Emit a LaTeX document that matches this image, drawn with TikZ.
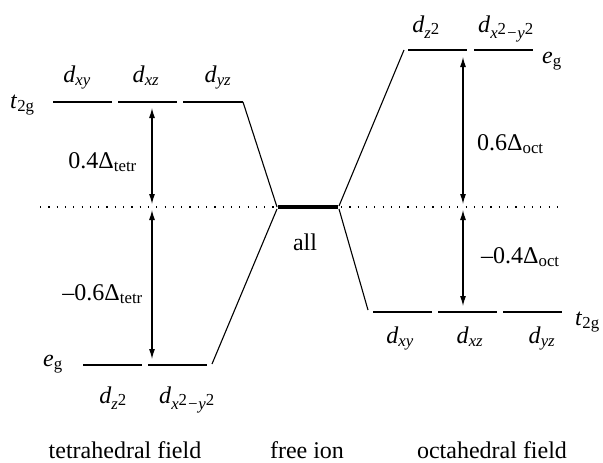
\documentclass[tikz,border=0pt]{standalone}
\usepackage{fontspec}
\setmainfont{Liberation Serif}
\usetikzlibrary{arrows.meta}
\newcommand\dorb[1]{\textit{d}\textsubscript{\textit{#1}}}
\newcommand\sqr{\raisebox{0.55ex}{\textup{2}}}
\newcommand\tlab{\textit{t}\textsubscript{2g}}
\newcommand\elab{\textit{e}\textsubscript{g}}
\begin{document}
\begin{tikzpicture}[x=1pt,y=-1pt,
  font=\fontsize{24}{28}\selectfont,
  lbl/.style={inner sep=0pt, anchor=base},
  lblw/.style={inner sep=0pt, anchor=base west},
  lble/.style={inner sep=0pt, anchor=base east},
  level/.style={line width=2.6pt},
  freelevel/.style={line width=4.5pt},
  conn/.style={line width=1.1pt},
  dotline/.style={line width=1.3pt, dash pattern=on 1.2pt off 7.1pt},
  gap/.style={line width=1.1pt, {Latex[length=10pt,width=6pt]}-{Latex[length=10pt,width=6pt]}}]
\useasboundingbox (0,0) rectangle (603,463);

% coordinates
\coordinate (tt1a) at (53,102);  \coordinate (tt1b) at (112,102);
\coordinate (tt2a) at (118,102); \coordinate (tt2b) at (177,102);
\coordinate (tt3a) at (183,102); \coordinate (tt3b) at (243,102);
\coordinate (te1a) at (83,365);  \coordinate (te1b) at (142,365);
\coordinate (te2a) at (148,365); \coordinate (te2b) at (207,365);
\coordinate (fa) at (278,207);   \coordinate (fb) at (338,207);
\coordinate (oe1a) at (408,50);  \coordinate (oe1b) at (467,50);
\coordinate (oe2a) at (474,50);  \coordinate (oe2b) at (533,50);
\coordinate (ot1a) at (373,312); \coordinate (ot1b) at (432,312);
\coordinate (ot2a) at (438,312); \coordinate (ot2b) at (497,312);
\coordinate (ot3a) at (503,312); \coordinate (ot3b) at (562,312);

% dotted barycentre line
\coordinate (dl1) at (40,207);  \coordinate (dl2) at (276,207);
\coordinate (dr1) at (341,207); \coordinate (dr2) at (565,207);
\draw[dotline] (dl1) -- (dl2);
\draw[dotline] (dr1) -- (dr2);

% levels
\draw[level] (tt1a) -- (tt1b);
\draw[level] (tt2a) -- (tt2b);
\draw[level] (tt3a) -- (tt3b);
\draw[level] (te1a) -- (te1b);
\draw[level] (te2a) -- (te2b);
\draw[freelevel] (fa) -- (fb);
\draw[level] (oe1a) -- (oe1b);
\draw[level] (oe2a) -- (oe2b);
\draw[level] (ot1a) -- (ot1b);
\draw[level] (ot2a) -- (ot2b);
\draw[level] (ot3a) -- (ot3b);

% correlation lines
\coordinate (c1a) at (243,102); \coordinate (c1b) at (277,207);
\coordinate (c2a) at (212,364); \coordinate (c2b) at (277,209);
\coordinate (c3a) at (339,209); \coordinate (c3b) at (368,310);
\coordinate (c4a) at (339,206); \coordinate (c4b) at (404,50);
\draw[conn] (c1a) -- (c1b);
\draw[conn] (c2a) -- (c2b);
\draw[conn] (c3a) -- (c3b);
\draw[conn] (c4a) -- (c4b);

% splitting arrows
\coordinate (a1a) at (152,108); \coordinate (a1b) at (152,204);
\coordinate (a2a) at (152,210); \coordinate (a2b) at (152,359);
\coordinate (a3a) at (463,57);  \coordinate (a3b) at (463,204);
\coordinate (a4a) at (463,210); \coordinate (a4b) at (463,306);
\draw[gap] (a1a) -- (a1b);
\draw[gap] (a2a) -- (a2b);
\draw[gap] (a3a) -- (a3b);
\draw[gap] (a4a) -- (a4b);

% labels, tetrahedral
\node[lbl] (lxy1) at (77,82) {\dorb{xy}};
\node[lbl] (lxz1) at (146,82) {\dorb{xz}};
\node[lbl] (lyz1) at (218,82) {\dorb{yz}};
\node[lblw] (t2g1) at (10,108) {\tlab};
\node[lble] (dt1) at (137,168) {0.4Δ\textsubscript{tetr}};
\node[lble] (dt2) at (143,300) {–0.6Δ\textsubscript{tetr}};
\node[lblw] (eg1) at (43,366) {\elab};
\node[lbl] (lz1) at (113,403) {\dorb{z\sqr}};
\node[lbl] (lx1) at (187,403) {\dorb{x\sqr−y\sqr}};

% free ion
\node[lbl] (all) at (305,250) {all};

% labels, octahedral
\node[lbl] (lz2) at (426,32) {\dorb{z\sqr}};
\node[lbl] (lx2) at (506,32) {\dorb{x\sqr−y\sqr}};
\node[lblw] (eg2) at (542,63) {\elab};
\node[lblw] (do1) at (477,150) {0.6Δ\textsubscript{oct}};
\node[lblw] (do2) at (481,263) {–0.4Δ\textsubscript{oct}};
\node[lblw] (t2g2) at (575,325) {\tlab};
\node[lbl] (lxy2) at (400,343) {\dorb{xy}};
\node[lbl] (lxz2) at (470,343) {\dorb{xz}};
\node[lbl] (lyz2) at (542,343) {\dorb{yz}};

% captions
\node[lbl] (cap1) at (125,458) {tetrahedral field};
\node[lbl] (cap2) at (307,458) {free ion};
\node[lbl] (cap3) at (492,458) {octahedral field};
\end{tikzpicture}
\end{document}
